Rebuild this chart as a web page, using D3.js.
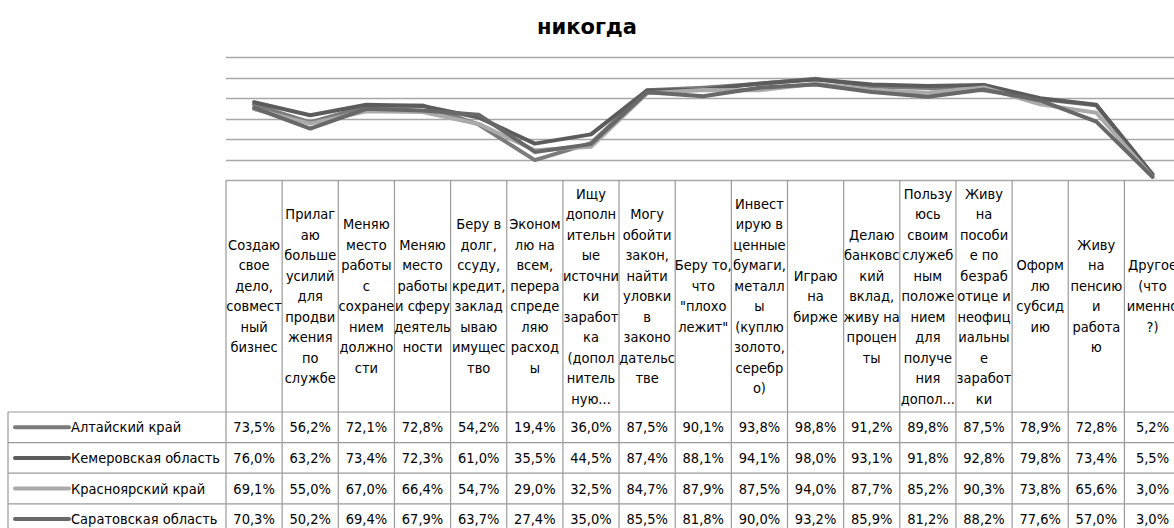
<!DOCTYPE html>
<html>
<head>
<meta charset="utf-8">
<script src="https://cdn.jsdelivr.net/npm/d3@7"></script>
<style>
  body { margin: 0; background: #fff; }
  svg { display: block; }
  .cell { font-family: "DejaVu Sans Condensed", "DejaVu Sans", sans-serif; font-size: 14.5px; fill: #000; }
</style>
</head>
<body>
<svg width="1174" height="528"></svg>
<script>
var title = "никогда";

var categories = [
    ["Создаю","свое","дело,","совмест","ный","бизнес"],
    ["Прилаг","аю","больше","усилий","для","продви","жения","по","службе"],
    ["Меняю","место","работы","с","сохране","нием","должно","сти"],
    ["Меняю","место","работы","и сферу","деятель","ности"],
    ["Беру в","долг,","ссуду,","кредит,","заклад","ываю","имущес","тво"],
    ["Эконом","лю на","всем,","перера","спреде","ляю","расход","ы"],
    ["Ищу","дополн","ительн","ые","источни","ки","заработ","ка","(допол","нитель","ную..."],
    ["Могу","обойти","закон,","найти","уловки","в","законо","дательс","тве"],
    ["Беру то,","что","\"плохо","лежит\""],
    ["Инвест","ирую в","ценные","бумаги,","металл","ы","(куплю","золото,","серебр","о)"],
    ["Играю","на","бирже"],
    ["Делаю","банковс","кий","вклад,","живу на","процен","ты"],
    ["Пользу","юсь","своим","служеб","ным","положе","нием","для","получе","ния","допол..."],
    ["Живу","на","пособи","е по","безраб","отице и","неофиц","иальны","е","заработ","ки"],
    ["Оформ","лю","субсид","ию"],
    ["Живу","на","пенсию","и","работа","ю"],
    ["Другое","(что","именно","?)"]
];

var seriesNames = ["Алтайский край", "Кемеровская область", "Красноярский край", "Саратовская область"];

var altai       = [73.5,56.2,72.1,72.8,54.2,19.4,36.0,87.5,90.1,93.8,98.8,91.2,89.8,87.5,78.9,72.8,5.2];
var kemerovo    = [76.0,63.2,73.4,72.3,61.0,35.5,44.5,87.4,88.1,94.1,98.0,93.1,91.8,92.8,79.8,73.4,5.5];
var krasnoyarsk = [69.1,55.0,67.0,66.4,54.7,29.0,32.5,84.7,87.9,87.5,94.0,87.7,85.2,90.3,73.8,65.6,3.0];
var saratov     = [70.3,50.2,69.4,67.9,63.7,27.4,35.0,85.5,81.8,90.0,93.2,85.9,81.2,88.2,77.6,57.0,3.0];

var yTicks = [0, 20, 40, 60, 80, 100, 120];

var seriesColors = ["#7b7b7b", "#5c5c5c", "#aaaaaa", "#686868"];
var series = [altai, kemerovo, krasnoyarsk, saratov];

var svg = d3.select("svg"),
    left = 226,
    colW = 56.15,
    plotTop = 57,
    plotBottom = 180,
    headBottom = 412,
    rowH = 30.6,
    lineH = 20.5,
    tableLeft = 8;

var x = d3.scaleBand()
    .domain(d3.range(categories.length))
    .range([left, left + colW * categories.length])
    .padding(0);

var y = d3.scaleLinear()
    .domain([0, 120])
    .range([plotBottom, plotTop]);

var fmt = function(v) { return d3.format(".1f")(v).replace(".", ",") + "%"; };

svg.append("text")
    .attr("x", 587)
    .attr("y", 34)
    .attr("text-anchor", "middle")
    .style("font-family", "'DejaVu Sans', sans-serif")
    .style("font-weight", "bold")
    .style("font-size", "21px")
    .text(title);

// gridlines
svg.append("g").selectAll("line")
    .data(yTicks)
    .enter().append("line")
    .attr("x1", left)
    .attr("x2", 1174)
    .attr("y1", function(d) { return Math.round(y(d)) + 0.5; })
    .attr("y2", function(d) { return Math.round(y(d)) + 0.5; })
    .attr("stroke", "#a8a8a8")
    .attr("stroke-width", 1.3);

// table borders
var tableBottom = headBottom + rowH * series.length;
var grid = svg.append("g").attr("stroke", "#9a9a9a").attr("stroke-width", 1.2);

grid.selectAll(".vline")
    .data(d3.range(categories.length + 1))
    .enter().append("line")
    .attr("x1", function(i) { return left + i * colW; })
    .attr("x2", function(i) { return left + i * colW; })
    .attr("y1", plotBottom)
    .attr("y2", tableBottom);

grid.append("line")
    .attr("x1", tableLeft).attr("x2", tableLeft)
    .attr("y1", headBottom).attr("y2", tableBottom);

grid.selectAll(".hline")
    .data(d3.range(series.length + 1))
    .enter().append("line")
    .attr("x1", tableLeft)
    .attr("x2", 1174)
    .attr("y1", function(r) { return headBottom + r * rowH; })
    .attr("y2", function(r) { return headBottom + r * rowH; });

// header labels
var headMid = (plotBottom + headBottom) / 2;
svg.append("g").selectAll("text")
    .data(categories)
    .enter().append("text")
    .attr("class", "cell")
    .attr("text-anchor", "middle")
    .each(function(lines, i) {
        var t = d3.select(this);
        var y0 = headMid - (lines.length - 1) / 2 * lineH;
        lines.forEach(function(s, k) {
            t.append("tspan")
                .attr("x", x(i) + x.bandwidth() / 2)
                .attr("y", y0 + k * lineH)
                .attr("dy", "0.35em")
                .text(s);
        });
    });

// lines
var line = d3.line()
    .x(function(d, i) { return x(i) + x.bandwidth() / 2; })
    .y(function(d) { return y(d); });

svg.append("g").selectAll("path")
    .data(series)
    .enter().append("path")
    .attr("d", line)
    .attr("fill", "none")
    .attr("stroke", function(d, i) { return seriesColors[i]; })
    .attr("stroke-width", 4)
    .attr("stroke-linejoin", "round")
    .attr("stroke-linecap", "round");

// data rows
var rows = svg.append("g").selectAll("g")
    .data(series)
    .enter().append("g")
    .attr("transform", function(d, r) { return "translate(0," + (headBottom + r * rowH + rowH / 2) + ")"; });

rows.append("line")
    .attr("x1", 15).attr("x2", 69)
    .attr("y1", 0).attr("y2", 0)
    .attr("stroke", function(d, r) { return seriesColors[r]; })
    .attr("stroke-width", 4)
    .attr("stroke-linecap", "round");

rows.append("text")
    .attr("class", "cell")
    .attr("x", 71)
    .attr("dy", "0.35em")
    .text(function(d, r) { return seriesNames[r]; });

rows.selectAll(".val")
    .data(function(d) { return d; })
    .enter().append("text")
    .attr("class", "cell")
    .attr("text-anchor", "middle")
    .attr("x", function(d, i) { return x(i) + x.bandwidth() / 2; })
    .attr("dy", "0.35em")
    .text(fmt);
</script>
</body>
</html>
